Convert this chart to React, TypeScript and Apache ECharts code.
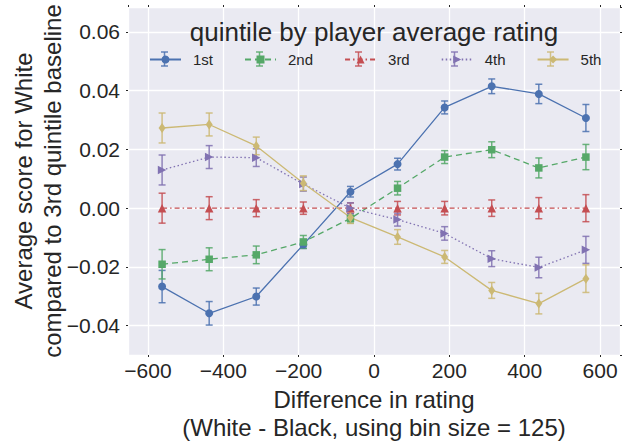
import React, { useEffect, useRef } from "react";
import * as echarts from "echarts";

const binCenters = [-562.5, -437.5, -312.5, -187.5, -62.5, 62.5, 187.5, 312.5, 437.5, 562.5];

const quintileNames = ["1st", "2nd", "3rd", "4th", "5th"];

const q1Values = [-0.0267, -0.0358, -0.0301, -0.0124, 0.0056, 0.015, 0.0343, 0.0415, 0.0389, 0.0307];
const q1Errors = [0.0055, 0.004, 0.0029, 0.0013, 0.0018, 0.002, 0.0022, 0.0025, 0.0033, 0.0046];

const q2Values = [-0.0191, -0.0174, -0.0159, -0.0115, -0.0035, 0.0068, 0.0174, 0.0199, 0.0137, 0.0174];
const q2Errors = [0.005, 0.0039, 0.003, 0.0022, 0.0016, 0.0023, 0.0022, 0.0027, 0.0034, 0.0043];

const q3Values = [0, 0, 0, 0, 0, 0, 0, 0, 0, 0];
const q3Errors = [0.0051, 0.0039, 0.0029, 0.0021, 0.0018, 0.0023, 0.0023, 0.0028, 0.0036, 0.0046];

const q4Values = [0.013, 0.0174, 0.0172, 0.0082, 0.0, -0.0039, -0.0086, -0.0172, -0.0202, -0.0142];
const q4Errors = [0.0051, 0.0039, 0.003, 0.0024, 0.0018, 0.0022, 0.0023, 0.0027, 0.0035, 0.0046];

const q5Values = [0.0273, 0.0285, 0.0212, 0.0085, -0.0032, -0.0098, -0.0166, -0.028, -0.0325, -0.024];
const q5Errors = [0.0051, 0.0039, 0.003, 0.0025, 0.002, 0.0025, 0.0022, 0.0027, 0.0035, 0.0047];

const titleText = "quintile by player average rating";
const xName = "Difference in rating\n(White - Black, using bin size = 125)";
const yName = "Average score for White\ncompared to 3rd quintile baseline";

const FONT = "'Liberation Sans', Arial, Helvetica, sans-serif";
const TEXT = "#262626";

const styles = [
  { color: "#4C72B0", symbol: "circle", size: 8, rotate: 0, dash: "solid" as any },
  { color: "#55A868", symbol: "rect", size: 7.5, rotate: 0, dash: [6, 4] as any },
  { color: "#C44E52", symbol: "triangle", size: 8.5, rotate: 0, dash: [5, 3, 1.5, 3] as any },
  { color: "#8172B2", symbol: "triangle", size: 8.5, rotate: -90, dash: [1.5, 2.5] as any },
  { color: "#CCB974", symbol: "diamond", size: [7, 10] as any, rotate: 0, dash: "solid" as any },
];

const allValues = [q1Values, q2Values, q3Values, q4Values, q5Values];
const allErrors = [q1Errors, q2Errors, q3Errors, q4Errors, q5Errors];

function fmtMinus(s: string) {
  return s.replace("-", "\u2212");
}

export default function App() {
  const ref = useRef<HTMLDivElement>(null);
  useEffect(() => {
    if (!ref.current) return;
    const chart = echarts.init(ref.current, undefined, { renderer: "svg" });

    const series: any[] = [];
    quintileNames.forEach((name, i) => {
      const st = styles[i];
      const vals = allValues[i];
      const errs = allErrors[i];
      series.push({
        name: name + " error",
        type: "custom",
        xAxisIndex: 0,
        yAxisIndex: 0,
        z: 1,
        data: binCenters.map((x, k) => [x, vals[k] - errs[k], vals[k] + errs[k]]),
        encode: { x: 0, y: [1, 2] },
        renderItem: (params: any, api: any) => {
          const x = api.value(0);
          const lo = api.coord([x, api.value(1)]);
          const hi = api.coord([x, api.value(2)]);
          const w = 3.5;
          const style = { stroke: st.color, lineWidth: 1.5, opacity: 0.85 };
          return {
            type: "group",
            children: [
              { type: "line", shape: { x1: hi[0], y1: hi[1], x2: lo[0], y2: lo[1] }, style },
              { type: "line", shape: { x1: hi[0] - w, y1: hi[1], x2: hi[0] + w, y2: hi[1] }, style },
              { type: "line", shape: { x1: lo[0] - w, y1: lo[1], x2: lo[0] + w, y2: lo[1] }, style },
            ],
          };
        },
      });
      series.push({
        name,
        type: "line",
        xAxisIndex: 0,
        yAxisIndex: 0,
        z: 2,
        data: binCenters.map((x, k) => [x, vals[k]]),
        symbol: st.symbol,
        symbolSize: st.size,
        symbolRotate: st.rotate,
        showAllSymbol: true,
        itemStyle: { color: st.color, opacity: 1 },
        lineStyle: { color: st.color, width: 1.3, type: st.dash },
        emphasis: { disabled: true },
      });
    });

    // decorative error-bar glyphs on the legend handles
    const legendIconCenters = [164.5, 259.5, 358.5, 454.5, 550.5];
    const legendY = 59;
    const legendBars: any[] = [];
    legendIconCenters.forEach((cx, i) => {
      const style = { stroke: styles[i].color, lineWidth: 1.5, opacity: 0.85 };
      legendBars.push(
        { type: "line", z: 5, shape: { x1: cx, y1: legendY - 7, x2: cx, y2: legendY + 7 }, style },
        { type: "line", z: 5, shape: { x1: cx - 3.5, y1: legendY - 7, x2: cx + 3.5, y2: legendY - 7 }, style },
        { type: "line", z: 5, shape: { x1: cx - 3.5, y1: legendY + 7, x2: cx + 3.5, y2: legendY + 7 }, style }
      );
    });

    const option: any = {
      animation: false,
      backgroundColor: "#ffffff",
      textStyle: { fontFamily: FONT },
      grid: {
        left: 128,
        right: 10,
        top: 7,
        bottom: 87,
        show: true,
        backgroundColor: "#EAEAF2",
        borderWidth: 0,
        containLabel: false,
        outerBoundsMode: "none",
      },
      legend: {
        data: quintileNames,
        left: 144,
        top: 47,
        itemWidth: 31,
        itemHeight: 10,
        itemGap: 31,
        textStyle: { fontSize: 15, color: TEXT, fontFamily: FONT, padding: [0, 0, 0, 7] },
      },
      graphic: [
        {
          type: "text",
          x: 374,
          y: 32,
          z: 10,
          style: {
            text: titleText,
            font: `26px ${FONT}`,
            fill: TEXT,
            textAlign: "center",
            textVerticalAlign: "middle",
          },
        },
        ...legendBars,
      ],
      xAxis: [
        {
          type: "value",
          min: -653,
          max: 653,
          splitNumber: 6,
          name: xName,
          nameLocation: "middle",
          nameGap: 30,
          nameMoveOverlap: false,
          nameTextStyle: { fontSize: 24, color: TEXT, fontFamily: FONT, lineHeight: 28, verticalAlign: "top" },
          axisLine: { show: false, onZero: false },
          axisTick: { show: true, length: 2, lineStyle: { color: TEXT, width: 1 } },
          splitLine: { show: true, lineStyle: { color: "#ffffff", width: 1.3 } },
          axisLabel: {
            fontSize: 21,
            color: TEXT,
            fontFamily: FONT,
            margin: 5,
            showMinLabel: false,
            showMaxLabel: false,
            formatter: (v: number) => (Math.abs(v % 200) < 1e-6 ? fmtMinus(String(v)) : ""),
          },
        },
        {
          type: "value",
          position: "top",
          min: -653,
          max: 653,
          splitNumber: 6,
          axisLine: { show: false, onZero: false },
          axisTick: { show: true, length: 2, lineStyle: { color: TEXT, width: 1 } },
          splitLine: { show: false },
          axisLabel: { show: false },
        },
      ],
      yAxis: [
        {
          type: "value",
          min: -0.05,
          max: 0.0685,
          splitNumber: 6,
          name: yName,
          nameLocation: "middle",
          nameGap: 61,
          nameRotate: 90,
          nameMoveOverlap: false,
          nameTextStyle: { fontSize: 24, color: TEXT, fontFamily: FONT, lineHeight: 29 },
          axisLine: { show: false, onZero: false },
          axisTick: { show: true, length: 2, lineStyle: { color: TEXT, width: 1 } },
          splitLine: { show: true, lineStyle: { color: "#ffffff", width: 1.3 } },
          axisLabel: {
            fontSize: 21,
            color: TEXT,
            fontFamily: FONT,
            margin: 8,
            showMinLabel: false,
            showMaxLabel: false,
            formatter: (v: number) => {
              const r = Math.round(v * 100);
              if (Math.abs(v * 100 - r) > 1e-6 || r % 2 !== 0) return "";
              return fmtMinus(v.toFixed(2));
            },
          },
        },
        {
          type: "value",
          position: "right",
          min: -0.05,
          max: 0.0685,
          splitNumber: 6,
          axisLine: { show: false, onZero: false },
          axisTick: { show: true, length: 2, lineStyle: { color: TEXT, width: 1 } },
          splitLine: { show: false },
          axisLabel: { show: false },
        },
      ],
      series,
    };
    chart.setOption(option);
    return () => chart.dispose();
  }, []);

  return (
    <div
      ref={ref}
      style={{ position: "absolute", left: 0, top: 0, width: 630, height: 442 }}
    />
  );
}
